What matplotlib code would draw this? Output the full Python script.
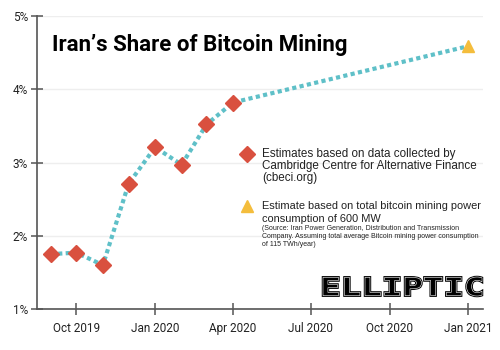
import matplotlib
matplotlib.use("Agg")
import matplotlib.pyplot as plt
from matplotlib.textpath import TextPath
from matplotlib.patches import PathPatch
from matplotlib.font_manager import FontProperties
from matplotlib.transforms import Affine2D
import datetime as dt

plt.rcParams['font.family'] = ['Roboto', 'DejaVu Sans']

# Data
cbeci_dates = ["2019-09-01", "2019-10-01", "2019-11-01", "2019-12-01",
               "2020-01-01", "2020-02-01", "2020-03-01", "2020-04-01"]
cbeci_values = [1.75, 1.77, 1.60, 2.71, 3.21, 2.97, 3.52, 3.82]
est_date = "2021-01-01"
est_value = 4.59
xtick_dates = ["2019-10-01", "2020-01-01", "2020-04-01", "2020-07-01", "2020-10-01", "2021-01-01"]
xtick_labels = ["Oct 2019", "Jan 2020", "Apr 2020", "Jul 2020", "Oct 2020", "Jan 2021"]
yticks = [1, 2, 3, 4, 5]
ytick_labels = ["1%", "2%", "3%", "4%", "5%"]

to_dt = lambda s: dt.datetime.strptime(s, "%Y-%m-%d")
cd = [to_dt(s) for s in cbeci_dates]
ed = to_dt(est_date)

fig = plt.figure(figsize=(5, 3.5), dpi=100)
ax = fig.add_axes([0.074, 0.117, 0.892, 0.837])

teal = "#5fc0c8"
red = "#d9503f"
yellow = "#f4bd3c"
spine_c = "#555555"

line_x = cd + [ed]
line_y = cbeci_values + [est_value]
ax.plot(line_x, line_y, color=teal, linestyle=(0, (1, 0.8)), linewidth=3,
        dash_capstyle='butt', zorder=2)
ax.plot(cd, cbeci_values, linestyle='none', marker='D', markersize=8.5,
        color=red, zorder=3)
ax.plot([ed], [est_value], linestyle='none', marker='^', markersize=9,
        color=yellow, zorder=3)

ax.set_xlim(to_dt("2019-08-16"), to_dt("2021-01-18"))
ax.set_ylim(1, 5)
ax.set_yticks(yticks)
ax.set_yticklabels(ytick_labels)
ax.set_xticks([to_dt(s) for s in xtick_dates])
ax.set_xticklabels(xtick_labels)

for s in ['top', 'right']:
    ax.spines[s].set_visible(False)
for s in ['left', 'bottom']:
    ax.spines[s].set_color(spine_c)
    ax.spines[s].set_linewidth(1.2)
ax.tick_params(axis='both', direction='inout', length=9, width=1.1, color=spine_c,
               labelsize=8.5, labelcolor='#222222')
ax.tick_params(axis='x', pad=5)
ax.tick_params(axis='y', pad=2)
ax.grid(axis='y', color='#eeeeee', linewidth=1.0, zorder=0)
ax.set_axisbelow(True)

# Title
fig.text(0.104, 0.87, "Iran\u2019s Share of Bitcoin Mining", fontsize=16,
         fontweight='bold', color='black', va='center', ha='left')

# Legend-like annotations
ax_l = fig.add_axes([0, 0, 1, 1], facecolor='none')
ax_l.set_xlim(0, 500)
ax_l.set_ylim(350, 0)
ax_l.axis('off')
ax_l.plot([247], [154], marker='D', markersize=8.5, color=red, linestyle='none')
ax_l.plot([247], [206], marker='^', markersize=9, color=yellow, linestyle='none')
lf = ['Liberation Sans', 'DejaVu Sans']
ax_l.text(262, 156.5, "Estimates based on data collected by", fontsize=8.4,
          family=lf, color='#222222', va='baseline', ha='left')
ax_l.text(262, 169, "Cambridge Centre for Alternative Finance", fontsize=8.4,
          family=lf, color='#222222', va='baseline', ha='left')
ax_l.text(262, 181.5, "(cbeci.org)", fontsize=8.4,
          family=lf, color='#222222', va='baseline', ha='left')
ax_l.text(262, 209.3, "Estimate based on total bitcoin mining power", fontsize=7.9,
          family=lf, color='#222222', va='baseline', ha='left')
ax_l.text(262, 221.7, "consumption of 600 MW", fontsize=7.9,
          family=lf, color='#222222', va='baseline', ha='left')
small = ["(Source: Iran Power Generation, Distribution and Transmission",
         "Company. Assuming total average Bitcoin mining power consumption",
         "of 115 TWh/year)"]
for i, s in enumerate(small):
    ax_l.text(262, 230.5 + 8 * i, s, fontsize=5.0, family=lf, color='#222222',
              va='baseline', ha='left')

# ELLIPTIC logo as scaled text path
tp = TextPath((0, 0), "ELLIPTIC", prop=FontProperties(family='DejaVu Sans Mono', weight='bold'))
ext = tp.get_extents()
x0, y0, x1, y1 = 323, 277, 482, 296
sx = (x1 - x0) / ext.width
sy = (y1 - y0) / ext.height
tr = Affine2D().translate(-ext.x0, -ext.y0).scale(sx, -sy).translate(x0, y1) + ax_l.transData
ax_l.add_patch(PathPatch(tp, facecolor='black', edgecolor='black', linewidth=1.8, transform=tr))
ax_l.add_patch(PathPatch(tp, facecolor='none', edgecolor='white', linewidth=0.4, transform=tr))

fig.savefig("out.png", dpi=100)
